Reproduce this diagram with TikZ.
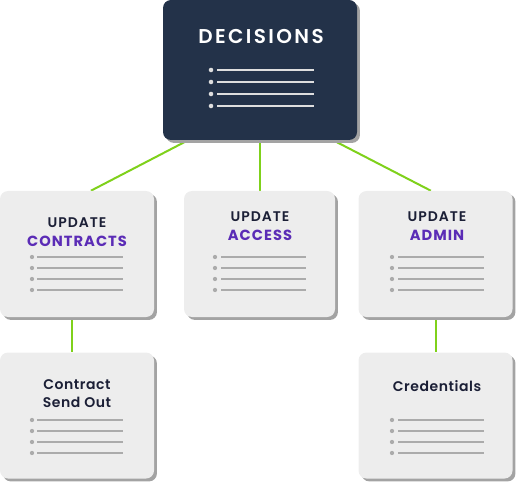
\documentclass[tikz,border=0pt]{standalone}
\usepackage{fontspec}
\setmainfont{Poppins}[BoldFont={Poppins SemiBold}]
\newfontfamily\fettschrift{Poppins}[LetterSpace=7]
\usetikzlibrary{calc, positioning, backgrounds, shadows}
\definecolor{nachtblau}{HTML}{233249}
\definecolor{kasten}{HTML}{EDEDED}
\definecolor{schatten}{HTML}{A3A3A3}
\definecolor{lila}{HTML}{5B2CB6}
\definecolor{tinte}{HTML}{1B1F36}
\definecolor{gruen}{HTML}{7FD11B}
\definecolor{strich}{HTML}{ABABAB}
\definecolor{hellstrich}{HTML}{DEDEDE}

\begin{document}
\begin{tikzpicture}[
    x=0.75pt, y=-0.75pt,
    box/.style={rectangle, rounded corners=6pt, fill=kasten, inner sep=0pt,
      minimum width=115.5pt, minimum height=94.5pt,
      drop shadow={shadow xshift=2.2pt, shadow yshift=-2.2pt, fill=schatten, opacity=1}},
    topbox/.style={box, fill=nachtblau, minimum width=145.5pt, minimum height=105pt},
    kopf/.style={inner sep=0pt, text=white,
      font=\fontsize{15}{18}\selectfont\addfontfeatures{LetterSpace=12}\bfseries},
    titel/.style={inner sep=0pt, text=tinte,
      font=\fontsize{10.5}{12}\selectfont\addfontfeatures{LetterSpace=7}\bfseries},
    thema/.style={titel, text=lila, font=\fontsize{11}{13}\selectfont\fettschrift\bfseries},
    linie/.style={gruen, line width=1.5pt},
  ]
  \useasboundingbox (0,0) rectangle (516,484);

  % Kaesten
  \node[topbox] (dec) at (260,70) {};
  \node[box] (contracts) at (77,254) {};
  \node[box, minimum width=113.25pt] (access) at (259.5,254) {};
  \node[box] (admin) at (435.5,254) {};
  \node[box] (sendout) at (77,415.5) {};
  \node[box] (creds) at (435.5,415.5) {};

  % Verbindungen
  \begin{scope}[on background layer]
    \draw[linie] ($(dec.south west)!0.13!(dec.south east)$) -- ($(contracts.north west)!0.59!(contracts.north east)$);
    \draw[linie] (dec.south) -- (dec.south |- access.north);
    \draw[linie] ($(dec.south west)!0.876!(dec.south east)$) -- ($(admin.north west)!0.47!(admin.north east)$);
    \draw[linie] ($(contracts.south west)!0.47!(contracts.south east)$) -- ($(sendout.north west)!0.47!(sendout.north east)$);
    \draw[linie] (admin.south) -- (creds.north);
  \end{scope}

  % Texte
  \node[kopf] (t-dec) at (261,36) {DECISIONS};
  \node[titel] (t-up1) at (77,223) {UPDATE};
  \node[thema] (t-contracts) at (77,241) {CONTRACTS};
  \node[titel] (t-up2) at (260,217) {UPDATE};
  \node[thema] (t-access) at (260,235) {ACCESS};
  \node[titel] (t-up3) at (437,217) {UPDATE};
  \node[thema] (t-admin) at (437,235) {ADMIN};
  \node[titel, font=\fontsize{10.5}{12}\selectfont\addfontfeatures{LetterSpace=4}\bfseries] (t-contract) at (77,385) {Contract};
  \node[titel, font=\fontsize{10.5}{12}\selectfont\addfontfeatures{LetterSpace=4}\bfseries] (t-send) at (77,402) {Send Out};
  \node[titel, font=\fontsize{10.5}{12}\selectfont\addfontfeatures{LetterSpace=4}\bfseries] (t-creds) at (437,386) {Credentials};

  % Listen
  \foreach \k in {0,...,3} {
    \fill[hellstrich] (211,{70+12*\k}) circle (1.7pt);
    \draw[hellstrich, line width=1.4pt] (217,{70+12*\k}) -- (314,{70+12*\k});
  }
  \foreach \px/\ax/\bx/\py/\dy in {32/37/123/257/11, 215/221/306/257/11, 392/398/484/257/11,
                                  32/37/123/420/11, 392/398/484/420/11}
    \foreach \k in {0,...,3} {
      \fill[strich] (\px,{\py+\dy*\k}) circle (1.6pt);
      \draw[strich, line width=1.3pt] (\ax,{\py+\dy*\k}) -- (\bx,{\py+\dy*\k});
    }
\end{tikzpicture}
\end{document}
